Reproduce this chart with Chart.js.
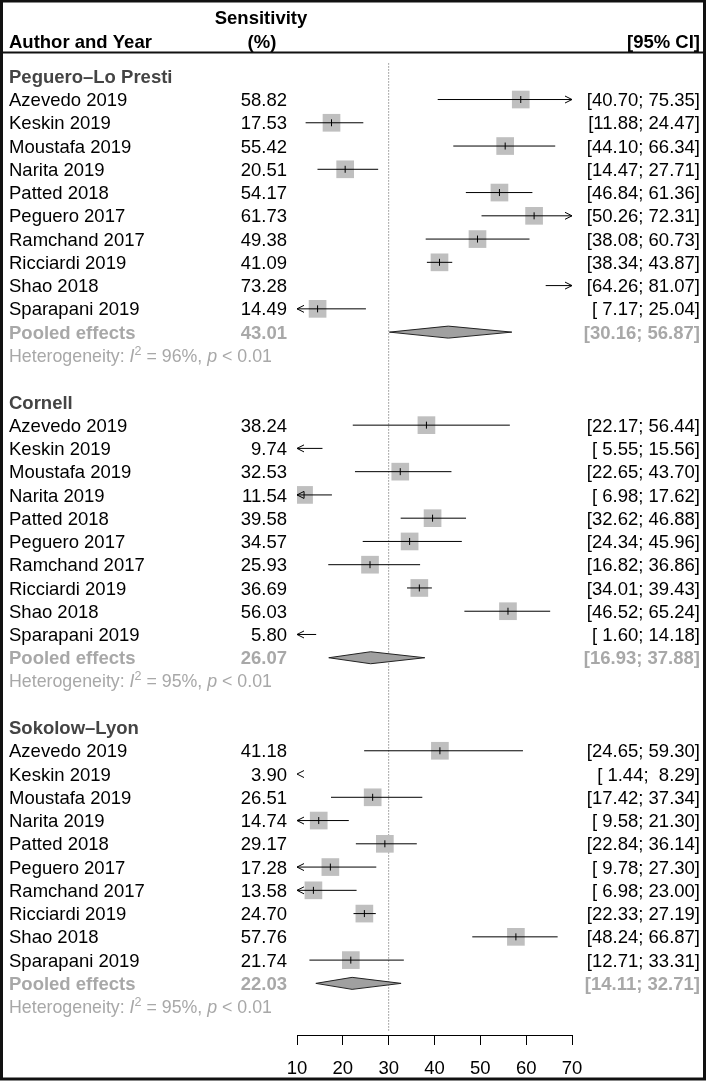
<!DOCTYPE html>
<html>
<head>
<meta charset="utf-8">
<script src="https://cdn.jsdelivr.net/npm/chart.js@4.4.0/dist/chart.umd.min.js"></script>
<style>
  html, body { margin: 0; padding: 0; background: #fff; }
  canvas { display: block; }
</style>
</head>
<body>
<canvas id="forest" width="709" height="1083"></canvas>
<script>
// data
const groups = ['Peguero–Lo Presti', 'Cornell', 'Sokolow–Lyon'];
const studies = ['Azevedo 2019', 'Keskin 2019', 'Moustafa 2019', 'Narita 2019', 'Patted 2018',
                 'Peguero 2017', 'Ramchand 2017', 'Ricciardi 2019', 'Shao 2018', 'Sparapani 2019'];

const pegueroSens = [58.82, 17.53, 55.42, 20.51, 54.17, 61.73, 49.38, 41.09, 73.28, 14.49];
const pegueroLow  = [40.70, 11.88, 44.10, 14.47, 46.84, 50.26, 38.08, 38.34, 64.26, 7.17];
const pegueroHigh = [75.35, 24.47, 66.34, 27.71, 61.36, 72.31, 60.73, 43.87, 81.07, 25.04];

const cornellSens = [38.24, 9.74, 32.53, 11.54, 39.58, 34.57, 25.93, 36.69, 56.03, 5.80];
const cornellLow  = [22.17, 5.55, 22.65, 6.98, 32.62, 24.34, 16.82, 34.01, 46.52, 1.60];
const cornellHigh = [56.44, 15.56, 43.70, 17.62, 46.88, 45.96, 36.86, 39.43, 65.24, 14.18];

const sokolowSens = [41.18, 3.90, 26.51, 14.74, 29.17, 17.28, 13.58, 24.70, 57.76, 21.74];
const sokolowLow  = [24.65, 1.44, 17.42, 9.58, 22.84, 9.78, 6.98, 22.33, 48.24, 12.71];
const sokolowHigh = [59.30, 8.29, 37.34, 21.30, 36.14, 27.30, 23.00, 27.19, 66.87, 33.31];

const pooledSens = [43.01, 26.07, 22.03];
const pooledLow  = [30.16, 16.93, 14.11];
const pooledHigh = [56.87, 37.88, 32.71];
const hetI2 = [96, 95, 95];
const hetP = ['0.01', '0.01', '0.01'];

const xTicks = [10, 20, 30, 40, 50, 60, 70];
const refValue = 30;

const FONT = "'Liberation Sans', Arial, Helvetica, sans-serif";
const fReg = '18.5px ' + FONT;
const fBold = 'bold 18.5px ' + FONT;
const hetSize = 17.8;

// build the row table (row index = vertical position on the y scale)
const sensAll = [pegueroSens, cornellSens, sokolowSens];
const lowAll = [pegueroLow, cornellLow, sokolowLow];
const highAll = [pegueroHigh, cornellHigh, sokolowHigh];
const rows = [];
groups.forEach((g, gi) => {
    const base = gi * 14;
    rows.push({ type: 'title', row: base, label: g });
    studies.forEach((s, i) => {
        rows.push({ type: 'study', row: base + 1 + i, label: s,
                    est: sensAll[gi][i], lo: lowAll[gi][i], hi: highAll[gi][i] });
    });
    rows.push({ type: 'pooled', row: base + 11, label: 'Pooled effects',
                est: pooledSens[gi], lo: pooledLow[gi], hi: pooledHigh[gi] });
    rows.push({ type: 'het', row: base + 12, i2: hetI2[gi], p: hetP[gi] });
});

const fmt = v => v.toFixed(2);
const ciText = (lo, hi) => '[' + fmt(lo).padStart(5, ' ') + '; ' + fmt(hi).padStart(5, ' ') + ']';

const studyRows = rows.filter(r => r.type === 'study');
const pointData = studyRows
    .filter(r => r.est >= xTicks[0] && r.est <= xTicks[xTicks.length - 1])
    .map(r => ({ x: r.est, y: r.row }));

function arrowHead(ctx, px, py, dir) {
    ctx.beginPath();
    ctx.moveTo(px - dir * 7, py - 3.5);
    ctx.lineTo(px, py);
    ctx.lineTo(px - dir * 7, py + 3.5);
    ctx.stroke();
}

const forestPlugin = {
    id: 'forest',
    afterDatasetsDraw(chart) {
        const { ctx, scales: { x, y } } = chart;
        const xmin = x.min, xmax = x.max;
        ctx.save();
        ctx.strokeStyle = '#000';
        ctx.lineWidth = 1;
        studyRows.forEach(r => {
            const py = y.getPixelForValue(r.row);
            if (r.hi <= xmin) { arrowHead(ctx, x.getPixelForValue(xmin), py, -1); return; }
            if (r.lo >= xmax) { arrowHead(ctx, x.getPixelForValue(xmax), py, 1); return; }
            const a = x.getPixelForValue(Math.max(r.lo, xmin));
            const b = x.getPixelForValue(Math.min(r.hi, xmax));
            ctx.beginPath();
            ctx.moveTo(a, py);
            ctx.lineTo(b, py);
            ctx.stroke();
            if (r.lo < xmin) arrowHead(ctx, a, py, -1);
            if (r.hi > xmax) arrowHead(ctx, b, py, 1);
        });
        // pooled diamonds
        rows.filter(r => r.type === 'pooled').forEach(r => {
            const py = y.getPixelForValue(r.row);
            const a = x.getPixelForValue(r.lo), m = x.getPixelForValue(r.est), b = x.getPixelForValue(r.hi);
            ctx.beginPath();
            ctx.moveTo(a, py);
            ctx.lineTo(m, py - 6);
            ctx.lineTo(b, py);
            ctx.lineTo(m, py + 6);
            ctx.closePath();
            ctx.fillStyle = '#a0a0a0';
            ctx.fill();
            ctx.strokeStyle = '#222';
            ctx.stroke();
        });
        ctx.restore();
    },
    afterDraw(chart) {
        const { ctx, scales: { y } } = chart;
        ctx.save();
        const base = (row, size) => y.getPixelForValue(row) + 0.716 * size / 2;
        const put = (s, px, py, align, font, color) => {
            ctx.font = font;
            ctx.fillStyle = color;
            ctx.textAlign = align;
            ctx.textBaseline = 'alphabetic';
            ctx.fillText(s, px, py);
        };

        // header
        put('Sensitivity', 261, base(-2.55, 18.5), 'center', fBold, '#000');
        put('Author and Year', 9, base(-1.5, 18.5), 'left', fBold, '#000');
        put('(%)', 262, base(-1.5, 18.5), 'center', fBold, '#000');
        put('[95% CI]', 700, base(-1.5, 18.5), 'right', fBold, '#000');
        ctx.strokeStyle = '#111';
        ctx.lineWidth = 2;
        ctx.beginPath();
        ctx.moveTo(3, y.getPixelForValue(-1) - 0.5);
        ctx.lineTo(704, y.getPixelForValue(-1) - 0.5);
        ctx.stroke();

        rows.forEach(r => {
            const by = base(r.row, 18.5);
            if (r.type === 'title') {
                put(r.label, 9, by, 'left', fBold, '#444');
            } else if (r.type === 'study') {
                put(r.label, 9, by, 'left', fReg, '#000');
                put(fmt(r.est), 287, by, 'right', fReg, '#000');
                put(ciText(r.lo, r.hi), 700, by, 'right', fReg, '#000');
            } else if (r.type === 'pooled') {
                put(r.label, 9, by, 'left', fBold, '#a8a8a8');
                put(fmt(r.est), 287, by, 'right', fBold, '#a8a8a8');
                put(ciText(r.lo, r.hi), 700, by, 'right', fBold, '#a8a8a8');
            } else if (r.type === 'het') {
                const hy = base(r.row, hetSize);
                const reg = hetSize + 'px ' + FONT, ital = 'italic ' + hetSize + 'px ' + FONT;
                const segs = [
                    { t: 'Heterogeneity: ', f: reg, dy: 0 },
                    { t: 'I', f: ital, dy: 0 },
                    { t: '2', f: '12.5px ' + FONT, dy: -7 },
                    { t: ' = ' + r.i2 + '%, ', f: reg, dy: 0 },
                    { t: 'p', f: ital, dy: 0 },
                    { t: ' < ' + r.p, f: reg, dy: 0 }
                ];
                let cx = 9;
                segs.forEach(sg => {
                    put(sg.t, cx, hy + sg.dy, 'left', sg.f, '#a8a8a8');
                    cx += ctx.measureText(sg.t).width;
                });
            }
        });

        // frame
        ctx.strokeStyle = '#111';
        ctx.lineWidth = 3;
        ctx.strokeRect(1.5, 1, 703, 1078);
        ctx.restore();
    }
};

const chart = new Chart(document.getElementById('forest'), {
    type: 'scatter',
    data: {
        datasets: [
            {
                label: 'ref',
                data: [{ x: refValue, y: -0.55 }, { x: refValue, y: 41.1 }],
                showLine: true,
                borderColor: '#555',
                borderWidth: 1,
                borderDash: [1, 2],
                pointRadius: 0,
                order: 3
            },
            {
                label: 'squares',
                data: pointData,
                pointStyle: 'rect',
                pointRadius: 12.5,
                backgroundColor: '#bfbfbf',
                borderWidth: 0,
                order: 2
            },
            {
                label: 'estimate',
                data: pointData,
                pointStyle: 'line',
                rotation: 90,
                pointRadius: 3.5,
                borderColor: '#000',
                borderWidth: 1,
                order: 1
            }
        ]
    },
    options: {
        responsive: false,
        animation: false,
        events: [],
        layout: { padding: { left: 297, right: 137, top: 53, bottom: 0 } },
        plugins: { legend: { display: false }, tooltip: { enabled: false } },
        scales: {
            x: {
                type: 'linear',
                min: 10,
                max: 70,
                afterBuildTicks: s => { s.ticks = xTicks.map(v => ({ value: v })); },
                afterFit: s => { s.height = 48; },
                ticks: { font: { family: FONT, size: 18.5 }, color: '#000', padding: 13 },
                grid: { drawOnChartArea: false, drawTicks: true, tickLength: 10, color: '#000' },
                border: { color: '#000', width: 1 }
            },
            y: {
                type: 'linear',
                reverse: true,
                min: -1,
                max: 41.22,
                display: false
            }
        }
    },
    plugins: [forestPlugin]
});
</script>
</body>
</html>
